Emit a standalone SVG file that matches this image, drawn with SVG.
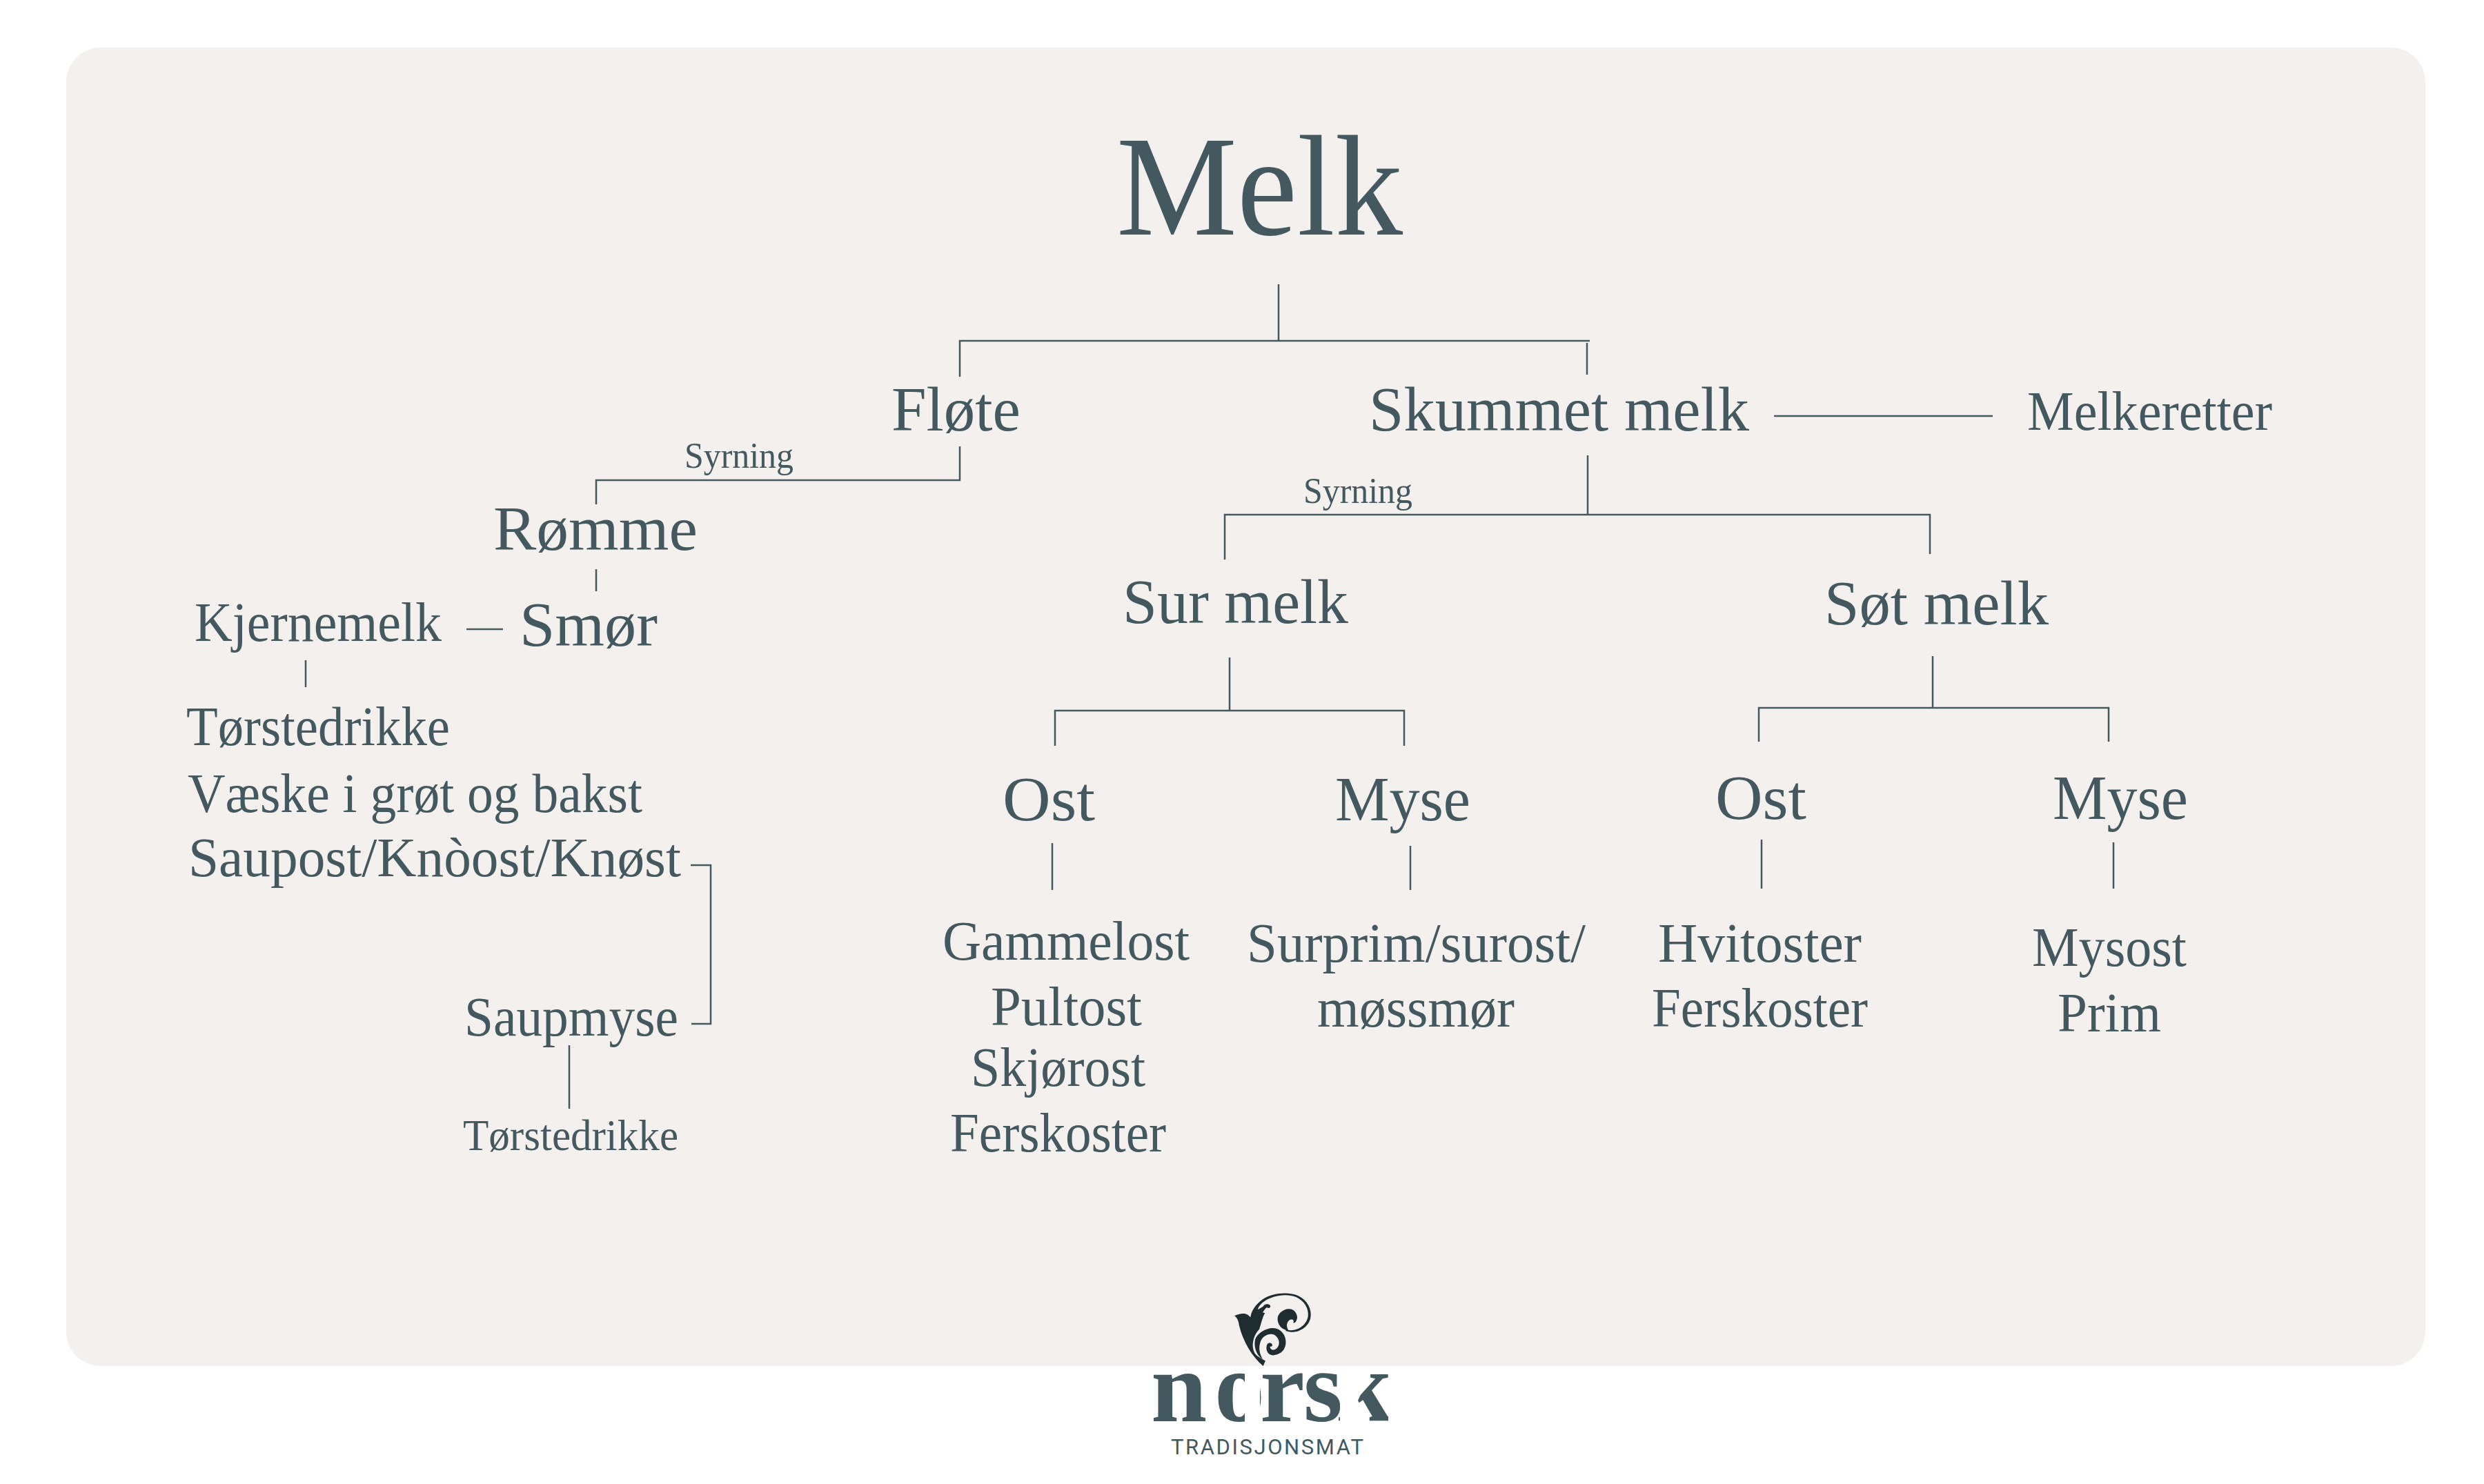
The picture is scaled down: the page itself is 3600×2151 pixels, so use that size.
<svg xmlns="http://www.w3.org/2000/svg" width="3600" height="2151" viewBox="0 0 3600 2151">
<style>
text{font-family:"Liberation Serif","Times New Roman",serif;fill:#43595f}
.a{font-size:92px}.b{font-size:80px}.c{font-size:52px}
#connectors path{fill:none;stroke:#43595f;stroke-width:2.5}
.logo{font-weight:700;font-size:146px}
</style>
<defs>
<clipPath id="cl"><rect x="1660" y="1980" width="144" height="100"/><rect x="1826" y="1980" width="116" height="100"/><polygon points="1968,2030 1986,1990 2012,1990 2012,2075 1992,2075"/></clipPath>
</defs>
<rect id="card" x="96" y="69" width="3419" height="1911" rx="50" fill="#f3f0ed"/>
<g id="connectors">
<path d="M1853 412V494M1391 546V494H2304M2300 497V543"/>
<path d="M1391 647V696H864V731M864 825V857M676 912H729M443 957V996"/>
<path d="M1001 1254H1030V1484H1002M825 1515V1607"/>
<path d="M2301 660V746M1775 811V746H2797V803M2571 603H2888"/>
<path d="M1782 953V1030M1529 1081V1030H2035V1081M2801 951V1026M2549 1075V1026H3056V1075"/>
<path d="M1525 1222V1290M2044 1226V1290M2553 1217V1288M3063 1221V1288"/>
</g>
<g id="n-melk"><text x="1618" y="340" font-size="208" textLength="415" lengthAdjust="spacingAndGlyphs">Melk</text></g>
<g id="n-flote"><text class="a" x="1292" y="624" textLength="187" lengthAdjust="spacingAndGlyphs">Fløte</text></g>
<g id="n-skummet"><text class="a" x="1984" y="624" textLength="551" lengthAdjust="spacingAndGlyphs">Skummet melk</text></g>
<g id="n-melkeretter"><text class="b" x="2938" y="623" textLength="355" lengthAdjust="spacingAndGlyphs">Melkeretter</text></g>
<g id="l-syrning1"><text class="c" x="992" y="678" textLength="158" lengthAdjust="spacingAndGlyphs">Syrning</text></g>
<g id="l-syrning2"><text class="c" x="1889" y="729" textLength="158" lengthAdjust="spacingAndGlyphs">Syrning</text></g>
<g id="n-romme"><text class="a" x="715" y="797" textLength="296" lengthAdjust="spacingAndGlyphs">Rømme</text></g>
<g id="n-smor"><text class="a" x="753" y="936" textLength="200" lengthAdjust="spacingAndGlyphs">Smør</text></g>
<g id="n-kjernemelk"><text class="b" x="282" y="929" textLength="358" lengthAdjust="spacingAndGlyphs">Kjernemelk</text></g>
<g id="n-kjerne-list">
<text class="b" x="270" y="1080" textLength="382" lengthAdjust="spacingAndGlyphs">Tørstedrikke</text>
<text class="b" x="272" y="1177" textLength="659" lengthAdjust="spacingAndGlyphs">Væske i grøt og bakst</text>
<text class="b" x="273" y="1270" textLength="714" lengthAdjust="spacingAndGlyphs">Saupost/Knòost/Knøst</text>
</g>
<g id="n-saupmyse"><text class="b" x="673" y="1501" textLength="310" lengthAdjust="spacingAndGlyphs">Saupmyse</text></g>
<g id="n-torste2"><text x="671" y="1667" font-size="64" textLength="312" lengthAdjust="spacingAndGlyphs">Tørstedrikke</text></g>
<g id="n-surmelk"><text class="a" x="1627" y="903" textLength="327" lengthAdjust="spacingAndGlyphs">Sur melk</text></g>
<g id="n-sotmelk"><text class="a" x="2644" y="905" textLength="325" lengthAdjust="spacingAndGlyphs">Søt melk</text></g>
<g id="n-ost1"><text class="a" x="1453" y="1189" textLength="134" lengthAdjust="spacingAndGlyphs">Ost</text></g>
<g id="n-myse1"><text class="a" x="1935" y="1189" textLength="196" lengthAdjust="spacingAndGlyphs">Myse</text></g>
<g id="n-ost2"><text class="a" x="2486" y="1187" textLength="132" lengthAdjust="spacingAndGlyphs">Ost</text></g>
<g id="n-myse2"><text class="a" x="2975" y="1187" textLength="196" lengthAdjust="spacingAndGlyphs">Myse</text></g>
<g id="n-ost1-list">
<text class="b" x="1366" y="1391" textLength="358" lengthAdjust="spacingAndGlyphs">Gammelost</text>
<text class="b" x="1436" y="1486" textLength="219" lengthAdjust="spacingAndGlyphs">Pultost</text>
<text class="b" x="1407" y="1574" textLength="253" lengthAdjust="spacingAndGlyphs">Skjørost</text>
<text class="b" x="1377" y="1669" textLength="313" lengthAdjust="spacingAndGlyphs">Ferskoster</text>
</g>
<g id="n-myse1-list">
<text class="b" x="1807" y="1394" textLength="491" lengthAdjust="spacingAndGlyphs">Surprim/surost/</text>
<text class="b" x="1909" y="1488" textLength="286" lengthAdjust="spacingAndGlyphs">møssmør</text>
</g>
<g id="n-ost2-list">
<text class="b" x="2403" y="1394" textLength="295" lengthAdjust="spacingAndGlyphs">Hvitoster</text>
<text class="b" x="2394" y="1488" textLength="313" lengthAdjust="spacingAndGlyphs">Ferskoster</text>
</g>
<g id="n-myse2-list">
<text class="b" x="2945" y="1400" textLength="224" lengthAdjust="spacingAndGlyphs">Mysost</text>
<text class="b" x="2982" y="1495" textLength="150" lengthAdjust="spacingAndGlyphs">Prim</text>
</g>
<g id="logo">
<g transform="translate(1780 1865) scale(.3333)" fill="#1f2c30">
<path d="M27 127C45 118 70 112 85 122L97 133C100 110 115 80 150 55C190 28 260 20 305 40C345 60 365 100 358 135C350 180 295 210 250 192L252 186C295 200 340 170 347 130C352 95 330 60 295 45C250 28 190 40 155 65C140 75 128 92 130 100C140 92 150 90 155 82C160 75 175 73 183 82C186 92 175 97 168 90C160 95 155 105 150 112L160 115C150 130 145 155 135 185C125 195 110 215 107 250C106 270 112 290 125 300C140 310 155 320 162 322L152 345C105 305 65 240 48 170C45 150 40 135 27 127Z"/>
<path d="M262 97C285 95 300 115 300 135C298 150 290 160 283 157C288 145 280 140 270 143C255 150 250 170 262 190C235 190 212 165 215 135C218 115 240 98 262 97Z"/>
<path d="M195 180C230 180 255 215 250 250C245 285 215 300 190 298C170 295 160 270 170 250C178 240 192 245 192 255C190 262 182 262 182 258C180 268 190 280 205 272C225 262 228 230 205 212C185 198 150 210 140 240C132 265 135 290 150 315C125 300 110 265 117 230C125 205 160 180 195 180Z"/>
</g>
<text class="logo" x="1668 1760 1826 1889 1936" y="2060" clip-path="url(#cl)">norsk</text>
<text x="1697" y="2108" font-size="31" textLength="279" style="font-family:'Roboto','Liberation Sans',sans-serif">TRADISJONSMAT</text>
</g>
</svg>
